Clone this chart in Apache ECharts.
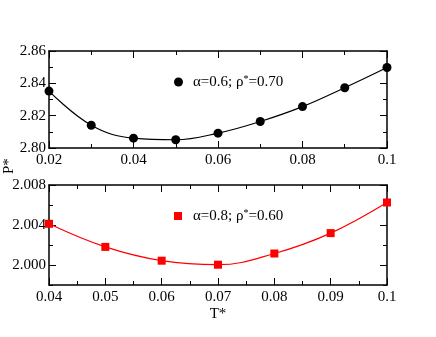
<!DOCTYPE html>
<html>
<head>
<meta charset="utf-8">
<script src="https://cdn.jsdelivr.net/npm/echarts@6/dist/echarts.min.js"></script>
<style>html,body{margin:0;padding:0;background:#fff}#c{width:436px;height:337px}</style>
</head>
<body>
<div id="c"></div>
<script>
// Top panel data
const topT = [0.02, 0.03, 0.04, 0.05, 0.06, 0.07, 0.08, 0.09, 0.1];
const topP = [2.8352, 2.8141, 2.8061, 2.8051, 2.8092, 2.8164, 2.8256, 2.8373, 2.8498];
const topName = 'α=0.6; ρ*=0.70';
// Bottom panel data
const botT = [0.04, 0.05, 0.06, 0.07, 0.08, 0.09, 0.1];
const botP = [2.00412, 2.00181, 2.00043, 2.00003, 2.00115, 2.00319, 2.00625];
const botName = 'α=0.8; ρ*=0.60';
// Tick values
const botMajorY = [2.000, 2.004, 2.008];
const botMinorY = [1.998, 2.002, 2.006];

const FONT = 'Liberation Serif';
const black = '#000';
const lineStyle = {color: black, width: 1.5};
const labelStyle = {fontFamily: FONT, fontSize: 15, color: black};

function xAx(grid, min, max, interval, pos, showLabel, extra) {
  return Object.assign({
    type: 'value', gridIndex: grid, min, max, interval, position: pos,
    axisLine: {show: true, lineStyle, onZero: false},
    axisTick: {show: true, inside: true, length: 7, lineStyle: {color: black, width: 1}},
    minorTick: {show: true, splitNumber: 2, length: 4, lineStyle: {color: black, width: 1}},
    splitLine: {show: false}, minorSplitLine: {show: false},
    axisLabel: Object.assign({show: showLabel, margin: 5, showMinLabel: true, showMaxLabel: true}, labelStyle)
  }, extra || {});
}

const option = {
  animation: false,
  backgroundColor: '#fff',
  grid: [
    {left: 49, right: 49, top: 51, height: 97},
    {left: 49, right: 49, top: 185, height: 100}
  ],
  xAxis: [
    xAx(0, 0.02, 0.1, 0.02, 'bottom', true),
    xAx(0, 0.02, 0.1, 0.02, 'top', false),
    xAx(1, 0.04, 0.1, 0.01, 'bottom', true, {
      name: 'T*', nameLocation: 'middle', nameGap: 22,
      nameTextStyle: {fontFamily: FONT, fontSize: 15, color: black}
    }),
    xAx(1, 0.04, 0.1, 0.01, 'top', false)
  ],
  yAxis: [
    {
      type: 'value', gridIndex: 0, min: 2.80, max: 2.86, interval: 0.02, position: 'left',
      axisLine: {show: true, lineStyle, onZero: false},
      axisTick: {show: true, inside: true, length: 7, lineStyle: {color: black, width: 1}},
      minorTick: {show: true, splitNumber: 2, length: 4, lineStyle: {color: black, width: 1}},
      splitLine: {show: false}, minorSplitLine: {show: false},
      axisLabel: Object.assign({margin: 3, formatter: v => v.toFixed(2), showMinLabel: true, showMaxLabel: true}, labelStyle)
    },
    {
      type: 'value', gridIndex: 0, min: 2.80, max: 2.86, interval: 0.02, position: 'right',
      axisLine: {show: true, lineStyle, onZero: false},
      axisTick: {show: true, inside: true, length: 7, lineStyle: {color: black, width: 1}},
      minorTick: {show: true, splitNumber: 2, length: 4, lineStyle: {color: black, width: 1}},
      splitLine: {show: false}, minorSplitLine: {show: false},
      axisLabel: {show: false}
    },
    {
      type: 'value', gridIndex: 1, min: 1.998, max: 2.008, position: 'left',
      axisLine: {show: true, lineStyle, onZero: false},
      axisTick: {show: true, inside: true, length: 7, customValues: botMajorY, lineStyle: {color: black, width: 1}},
      splitLine: {show: false},
      axisLabel: Object.assign({margin: 3, customValues: botMajorY, formatter: v => v.toFixed(3)}, labelStyle)
    },
    {
      type: 'value', gridIndex: 1, min: 1.998, max: 2.008, position: 'left', offset: 0,
      axisLine: {show: false},
      axisTick: {show: true, inside: true, length: 4, customValues: botMinorY, lineStyle: {color: black, width: 1}},
      splitLine: {show: false},
      axisLabel: {show: false}
    },
    {
      type: 'value', gridIndex: 1, min: 1.998, max: 2.008, position: 'right',
      axisLine: {show: true, lineStyle, onZero: false},
      axisTick: {show: true, inside: true, length: 7, customValues: botMajorY, lineStyle: {color: black, width: 1}},
      splitLine: {show: false},
      axisLabel: {show: false}
    },
    {
      type: 'value', gridIndex: 1, min: 1.998, max: 2.008, position: 'right', offset: 0,
      axisLine: {show: false},
      axisTick: {show: true, inside: true, length: 4, customValues: botMinorY, lineStyle: {color: black, width: 1}},
      splitLine: {show: false},
      axisLabel: {show: false}
    }
  ],
  legend: [
    {
      data: [{name: topName, icon: 'circle'}],
      left: 169, top: 69, itemWidth: 9, itemHeight: 9,
      formatter: () => '{a|α=0.6; ρ}{s|*}{a|=0.70}',
      textStyle: {padding: [0, 0, 0, 5], rich: {
        a: {fontFamily: FONT, fontSize: 15, color: black},
        s: {fontFamily: FONT, fontSize: 10, color: black, verticalAlign: 'top', padding: [0, 0, 6, 0]}
      }}
    },
    {
      data: [{name: botName, icon: 'rect'}],
      left: 169, top: 203, itemWidth: 8, itemHeight: 8,
      formatter: () => '{a|α=0.8; ρ}{s|*}{a|=0.60}',
      textStyle: {padding: [0, 0, 0, 6], rich: {
        a: {fontFamily: FONT, fontSize: 15, color: black},
        s: {fontFamily: FONT, fontSize: 10, color: black, verticalAlign: 'top', padding: [0, 0, 6, 0]}
      }}
    }
  ],
  graphic: [
    {type: 'text', x: 2, y: 174, rotation: Math.PI / 2,
     style: {text: 'P*', fontFamily: FONT, fontSize: 15, fill: black}}
  ],
  series: [
    {
      name: topName, type: 'line', xAxisIndex: 0, yAxisIndex: 0,
      data: topT.map((t, i) => [t, topP[i]]),
      smooth: 0.4, symbol: 'circle', symbolSize: 9,
      itemStyle: {color: black}, lineStyle: {color: black, width: 1.2}
    },
    {
      name: botName, type: 'line', xAxisIndex: 2, yAxisIndex: 2,
      data: botT.map((t, i) => [t, botP[i]]),
      smooth: 0.4, symbol: 'rect', symbolSize: 8,
      itemStyle: {color: '#ff0000'}, lineStyle: {color: '#ff0000', width: 1.2}
    }
  ]
};
const chart = echarts.init(document.getElementById('c'), null, {renderer: 'canvas'});
chart.setOption(option);
</script>
</body>
</html>
